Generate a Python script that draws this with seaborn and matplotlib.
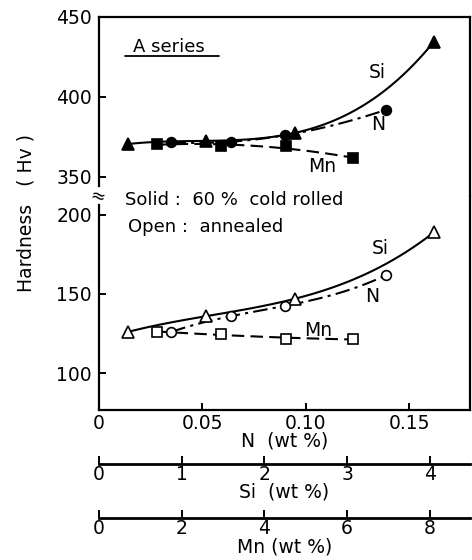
import matplotlib
matplotlib.use("Agg")
import matplotlib.pyplot as plt
import numpy as np
import seaborn as sns

# alloy content, each on its own scale (wt %)
n_wt = [0.035, 0.064, 0.090, 0.139]
si_wt = [0.35, 1.3, 2.37, 4.05]
mn_wt = [1.4, 2.95, 4.53, 6.15]

# hardness (Hv), solid = 60 % cold rolled, open = annealed
n_rolled = [371.5, 372.0, 376.0, 392.0]
si_rolled = [370.5, 372.5, 377.5, 434.5]
mn_rolled = [370.5, 369.0, 369.0, 361.5]
n_annealed = [126.0, 136.0, 142.5, 162.0]
si_annealed = [126.0, 136.0, 147.0, 189.0]
mn_annealed = [126.0, 125.0, 121.5, 121.5]

# the Si and Mn scales drawn under the N axis
SI_PER_N = 25.0
MN_PER_N = 50.0

sns.set_style("ticks")
plt.rcParams["font.family"] = ["DejaVu Sans"]
plt.rcParams.update({
    "axes.linewidth": 1.6,
    "axes.edgecolor": "black",
    "text.color": "black",
    "axes.labelcolor": "black",
    "xtick.color": "black",
    "ytick.color": "black",
})

W, H = 472, 560


def px(x, y):
    return x / W, 1 - y / H


fig = plt.figure(figsize=(W / 100, H / 100), dpi=100)
left, right = 99 / W, 470 / W
ax_top = fig.add_axes([left, 1 - 196 / H, right - left, (196 - 17) / H])
ax_bot = fig.add_axes([left, 1 - 410 / H, right - left, (410 - 196) / H])

x_n = np.array(n_wt)
x_si = np.array(si_wt) / SI_PER_N
x_mn = np.array(mn_wt) / MN_PER_N

# x, rolled, annealed, marker, line style, fit order
series = [
    (x_si, si_rolled, si_annealed, "^", "-", 3),
    (x_n, n_rolled, n_annealed, "o", (0, (7, 2.5, 1.5, 2.5)), 3),
    (x_mn, mn_rolled, mn_annealed, "s", (0, (6, 3)), 2),
]

for ax, idx, face in [(ax_top, 1, "black"), (ax_bot, 2, "white")]:
    for s in series:
        xs, ys, marker, ls, order = s[0], s[idx], s[3], s[4], s[5]
        sns.regplot(x=xs, y=ys, order=order, ci=None, scatter=False, ax=ax,
                    line_kws=dict(color="black", lw=1.5, ls=ls))
        ax.plot(xs, ys, ls="none", marker=marker, ms=8 if marker == "^" else 7,
                mfc=face, mec="black", mew=1.2, zorder=5)

ax_top.set_ylim(338, 450)
ax_bot.set_ylim(76.6, 212)
for ax in (ax_top, ax_bot):
    ax.set_xlim(0, 0.1795)
    ax.set_xlabel("")
    ax.set_ylabel("")
    ax.tick_params(direction="in", length=5, width=1.4, labelsize=13.5, pad=5)

ax_top.set_yticks([350, 400, 450])
ax_top.set_xticks([])
ax_top.spines["bottom"].set_visible(False)
ax_top.spines["left"].set_bounds(344, 450)

ax_bot.set_yticks([100, 150, 200])
ax_bot.set_xticks([0, 0.05, 0.10, 0.15])
ax_bot.set_xticklabels(["0", "0.05", "0.10", "0.15"])
ax_bot.tick_params(axis="x", pad=3)
ax_bot.spines["top"].set_visible(False)
ax_bot.spines["left"].set_bounds(76.6, 206)
ax_bot.set_xlabel("N  (wt %)", fontsize=13.5, labelpad=-1)

# extra composition scales for Si and Mn
for loc, factor, ticks, label in [
    (-0.252, SI_PER_N, [0, 1, 2, 3, 4], "Si  (wt %)"),
    (-0.505, MN_PER_N, [0, 2, 4, 6, 8], "Mn (wt %)"),
]:
    sec = ax_bot.secondary_xaxis(
        loc, functions=(lambda v, f=factor: v * f, lambda v, f=factor: v / f))
    sec.set_xticks(ticks)
    sec.tick_params(direction="in", length=6, width=1.4, labelsize=13.5, pad=1)
    sec.spines["bottom"].set_linewidth(2)
    sec.set_xlabel(label, fontsize=13.5, labelpad=-1)

# axis break mark
fig.text(*px(97, 197), "≈", fontsize=13, ha="center", va="center", rotation=-15)

fig.text(*px(26, 213), "Hardness   ( Hv )", rotation=90, fontsize=13.5,
         ha="center", va="center")

fig.text(*px(133, 47), "A series", fontsize=13, ha="left", va="center")
fig.add_artist(plt.Line2D([125 / W, 219 / W], [1 - 56 / H, 1 - 56 / H],
                          color="black", lw=1.3))
fig.text(*px(125, 200), "Solid :  60 %  cold rolled", fontsize=13, va="center")
fig.text(*px(128, 227), "Open :  annealed", fontsize=13, va="center")

for (x, y), t in [((377, 72), "Si"), ((378, 125), "N"), ((322, 166), "Mn"),
                  ((380, 249), "Si"), ((372, 296), "N"), ((318, 330), "Mn")]:
    fig.text(*px(x, y), t, fontsize=13.5, ha="center", va="center")

fig.savefig("out.png", dpi=100)
